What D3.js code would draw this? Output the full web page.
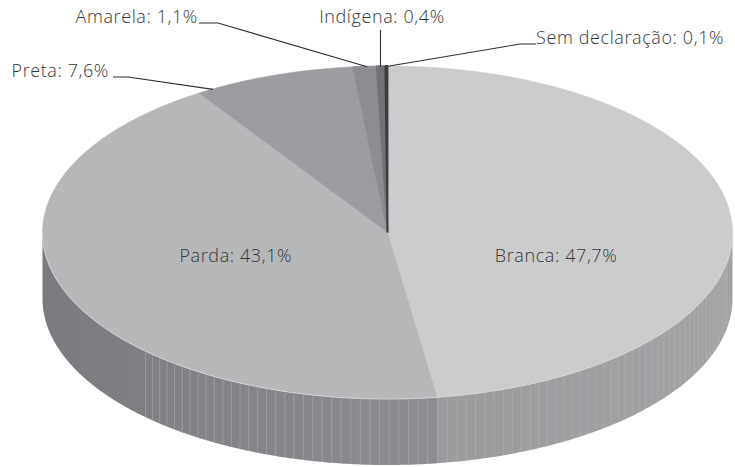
<!DOCTYPE html>
<html>
<head>
<meta charset="utf-8">
<script src="https://cdn.jsdelivr.net/npm/d3@7"></script>
<style>
  html, body { margin: 0; padding: 0; background: #fff; }
  svg { display: block; }
  text { font-family: "Open Sans", sans-serif; font-weight: 300; fill: #363636; letter-spacing: 0.6px; }
</style>
</head>
<body>
<script>
// ---- data ----
const categories = ["Branca", "Parda", "Preta", "Amarela", "Indígena", "Sem declaração"];
const values = [47.7, 43.1, 7.6, 1.1, 0.4, 0.1];
const valueLabels = ["47,7%", "43,1%", "7,6%", "1,1%", "0,4%", "0,1%"];

// ---- styles ----
const topColors = ["#cbcccd", "#b6b7b9", "#9c9da0", "#8c8d90", "#727376", "#3b3b3d"];
const topStroke = [0.5, 0.5, 0.5, 1, 1.6, 1.8];
const sideColorsFrom = ["#a2a3a5", "#8c8d90", "#7e7f82", "#76777a", "#5e5f62", "#2e2e30"];
const sideColorsTo   = ["#9a9b9d", "#7a7b7e", "#7e7f82", "#76777a", "#5e5f62", "#2e2e30"];

const W = 735, H = 467;
const cx = 387.5, cy = 232.5, rx = 345, ry = 166.5, depth = 66;

const svg = d3.select("body").append("svg").attr("width", W).attr("height", H);
const defs = svg.append("defs");

const pie = d3.pie().sort(null).value(d => d.value).startAngle(0).endAngle(2 * Math.PI);
const arcs = pie(categories.map((c, i) => ({ name: c, value: values[i], label: valueLabels[i], i })));

const ex = a => cx + rx * Math.sin(a);
const ey = a => cy - ry * Math.cos(a);

// ---- side walls (visible half: angles PI/2 .. 3PI/2) ----
const sideG = svg.append("g");
const seamStep = Math.PI / 180 * 1.6;
arcs.forEach(a => {
  const s = Math.max(a.startAngle, Math.PI / 2);
  const e = Math.min(a.endAngle, 3 * Math.PI / 2);
  if (e <= s) return;
  const n = Math.max(4, Math.ceil((e - s) / (Math.PI / 360)));
  const angs = d3.range(n + 1).map(k => s + (e - s) * k / n);
  const x1 = ex(s), x2 = ex(e);
  const gid = "side" + a.data.i;
  const g = defs.append("linearGradient").attr("id", gid)
    .attr("gradientUnits", "userSpaceOnUse")
    .attr("x1", x1).attr("y1", 0).attr("x2", x2).attr("y2", 0);
  g.append("stop").attr("offset", 0).attr("stop-color", sideColorsFrom[a.data.i]);
  g.append("stop").attr("offset", 1).attr("stop-color", sideColorsTo[a.data.i]);
  const topPts = angs.map(q => [ex(q), ey(q)]);
  const botPts = angs.slice().reverse().map(q => [ex(q), ey(q) + depth]);
  sideG.append("path")
    .attr("d", "M" + topPts.concat(botPts).map(p => p.join(",")).join("L") + "Z")
    .attr("fill", "url(#" + gid + ")");
  // seams
  const m = Math.floor((e - s) / seamStep);
  d3.range(1, m).map(k => s + k * seamStep).forEach(q => {
    const x = ex(q);
    if (x < 140 || x > 728) return;
    sideG.append("line")
      .attr("x1", x).attr("x2", x)
      .attr("y1", ey(q) + 1).attr("y2", ey(q) + depth)
      .attr("stroke", "#b6b7b9").attr("stroke-opacity", 0.6).attr("stroke-width", 0.8);
  });
});

// ---- top faces ----
const topG = svg.append("g");
arcs.forEach(a => {
  const n = Math.max(2, Math.ceil((a.endAngle - a.startAngle) / (Math.PI / 360)));
  const pts = d3.range(n + 1).map(k => {
    const q = a.startAngle + (a.endAngle - a.startAngle) * k / n;
    return [ex(q), ey(q)];
  });
  topG.append("path")
    .attr("d", "M" + cx + "," + cy + "L" + pts.map(p => p.join(",")).join("L") + "Z")
    .attr("fill", topColors[a.data.i])
    .attr("stroke", topColors[a.data.i]).attr("stroke-width", topStroke[a.data.i])
    .attr("stroke-linejoin", "bevel");
});
// thin highlight along front rim
const rim = d3.range(0, 181).map(k => Math.PI / 2 + Math.PI * k / 180);
svg.append("path")
  .attr("d", "M" + rim.map(q => [ex(q), ey(q)].join(",")).join("L"))
  .attr("fill", "none").attr("stroke", "#d6d7d8").attr("stroke-width", 0.8);

// ---- inner labels ----
const inner = { 0: { f: 0.49, dy: 29 }, 1: { f: 0.47, dy: 29 } };
arcs.forEach(a => {
  const cfg = inner[a.data.i];
  if (!cfg) return;
  const m = (a.startAngle + a.endAngle) / 2;
  svg.append("text")
    .attr("x", cx + cfg.f * rx * Math.sin(m))
    .attr("y", cy + cfg.dy)
    .attr("text-anchor", "middle")
    .attr("font-size", 18)
    .text(a.data.name + ": " + a.data.label);
});

// ---- outer labels with leader lines ----
const outer = {
  2: { tx: 109, ty: 77, anchor: "end", elbow: [[113, 77], [128, 77]], frac: 0.1 },
  3: { tx: 198, ty: 23, anchor: "end", elbow: [[199, 23], [218, 23]], frac: 0.6 },
  4: { tx: 382, ty: 23, anchor: "middle", elbow: [[380.5, 30]], frac: 0.5, vertical: true },
  5: { tx: 536, ty: 44, anchor: "start", elbow: [[536, 44], [520, 44]], frac: 0.5 }
};
arcs.forEach(a => {
  const cfg = outer[a.data.i];
  if (!cfg) return;
  const q = a.startAngle + (a.endAngle - a.startAngle) * cfg.frac;
  let end = [ex(q), ey(q) + 0.5];
  if (cfg.vertical) end = [cfg.elbow[0][0], ey(q) + 0.5];
  const pts = cfg.elbow.concat([end]);
  svg.append("path")
    .attr("d", d3.line()(pts))
    .attr("fill", "none").attr("stroke", "#2e2e2e").attr("stroke-width", 1.1);
  svg.append("text")
    .attr("x", cfg.tx).attr("y", cfg.ty)
    .attr("text-anchor", cfg.anchor)
    .attr("font-size", 18)
    .text(a.data.name + ": " + a.data.label);
});
</script>
</body>
</html>
